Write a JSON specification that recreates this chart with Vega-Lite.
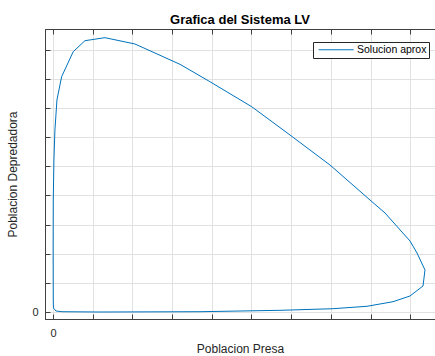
{
  "$schema": "https://vega.github.io/schema/vega-lite/v6.json",
  "width": 390,
  "height": 290,
  "autosize": {"type": "none"},
  "padding": {"left": 45, "top": 29, "right": 0, "bottom": 37},
  "background": "white",
  "title": {"text": "Grafica del Sistema LV", "font": "Liberation Sans", "fontSize": 13, "fontWeight": "bold", "color": "#000000", "anchor": "middle", "offset": 2},
  "config": {
    "view": {"stroke": "#404040", "strokeWidth": 1},
    "font": "Liberation Sans"
  },
  "data": {
    "values": [
      {"i": 1, "x": 0.013, "y": 0.137, "s": "Solucion aprox"},
      {"i": 2, "x": 0.076, "y": 0.034, "s": "Solucion aprox"},
      {"i": 3, "x": 0.227, "y": 0.010, "s": "Solucion aprox"},
      {"i": 4, "x": 1.184, "y": 0.0, "s": "Solucion aprox"},
      {"i": 5, "x": 3.703, "y": 0.010, "s": "Solucion aprox"},
      {"i": 6, "x": 5.718, "y": 0.058, "s": "Solucion aprox"},
      {"i": 7, "x": 7.053, "y": 0.113, "s": "Solucion aprox"},
      {"i": 8, "x": 7.909, "y": 0.196, "s": "Solucion aprox"},
      {"i": 9, "x": 8.564, "y": 0.353, "s": "Solucion aprox"},
      {"i": 10, "x": 8.992, "y": 0.549, "s": "Solucion aprox"},
      {"i": 11, "x": 9.320, "y": 0.892, "s": "Solucion aprox"},
      {"i": 12, "x": 9.370, "y": 1.441, "s": "Solucion aprox"},
      {"i": 13, "x": 9.169, "y": 2.024, "s": "Solucion aprox"},
      {"i": 14, "x": 8.992, "y": 2.436, "s": "Solucion aprox"},
      {"i": 15, "x": 8.363, "y": 3.396, "s": "Solucion aprox"},
      {"i": 16, "x": 7.985, "y": 3.842, "s": "Solucion aprox"},
      {"i": 17, "x": 6.977, "y": 5.043, "s": "Solucion aprox"},
      {"i": 18, "x": 6.222, "y": 5.815, "s": "Solucion aprox"},
      {"i": 19, "x": 5.970, "y": 6.072, "s": "Solucion aprox"},
      {"i": 20, "x": 5.005, "y": 7.043, "s": "Solucion aprox"},
      {"i": 21, "x": 3.955, "y": 7.900, "s": "Solucion aprox"},
      {"i": 22, "x": 3.199, "y": 8.497, "s": "Solucion aprox"},
      {"i": 23, "x": 2.065, "y": 9.194, "s": "Solucion aprox"},
      {"i": 24, "x": 1.310, "y": 9.410, "s": "Solucion aprox"},
      {"i": 25, "x": 0.806, "y": 9.307, "s": "Solucion aprox"},
      {"i": 26, "x": 0.511, "y": 8.930, "s": "Solucion aprox"},
      {"i": 27, "x": 0.219, "y": 8.072, "s": "Solucion aprox"},
      {"i": 28, "x": 0.101, "y": 7.273, "s": "Solucion aprox"},
      {"i": 29, "x": 0.050, "y": 6.244, "s": "Solucion aprox"},
      {"i": 30, "x": 0.025, "y": 5.214, "s": "Solucion aprox"},
      {"i": 31, "x": 0.008, "y": 3.842, "s": "Solucion aprox"},
      {"i": 32, "x": 0.005, "y": 2.127, "s": "Solucion aprox"},
      {"i": 33, "x": 0.008, "y": 0.412, "s": "Solucion aprox"},
      {"i": 34, "x": 0.013, "y": 0.137, "s": "Solucion aprox"}
    ]
  },
  "encoding": {
    "y": {
      "field": "y", "type": "quantitative",
      "scale": {"domain": [-0.24, 9.708], "nice": false, "zero": false},
      "axis": {
        "orient": "left", "values": [0, 1, 2, 3, 4, 5, 6, 7, 8, 9],
        "grid": true, "gridColor": "#e1e1e1", "gridWidth": 1,
        "domainColor": "#404040", "tickColor": "#404040", "tickSize": -5,
        "labelExpr": "datum.value == 0 ? '0' : ''", "labelOverlap": false,
        "labelFontSize": 11, "labelColor": "#262626", "labelPadding": 12, "labelFont": "Liberation Sans",
        "title": "Poblacion Depredadora", "titleFontSize": 12, "titleFontWeight": "normal", "titleColor": "#262626", "titlePadding": 12, "titleFont": "Liberation Sans"
      }
    },
    "order": {"field": "i", "type": "quantitative"}
  },
  "layer": [
    {
      "mark": {"type": "line", "strokeWidth": 1, "clip": true},
      "encoding": {
        "x": {
          "field": "x", "type": "quantitative",
          "scale": {"domain": [-0.2, 9.622], "nice": false, "zero": false},
          "axis": {
            "orient": "bottom", "values": [0, 1, 2, 3, 4, 5, 6, 7, 8, 9],
            "grid": true, "gridColor": "#e1e1e1", "gridWidth": 1,
            "domainColor": "#404040", "tickColor": "#404040", "tickSize": -5,
            "labelExpr": "datum.value == 0 ? '0' : ''", "labelOverlap": false,
            "labelFontSize": 11, "labelColor": "#262626", "labelPadding": 13, "labelFont": "Liberation Sans",
            "title": "Poblacion Presa", "titleFontSize": 12, "titleFontWeight": "normal", "titleColor": "#262626", "titlePadding": 5, "titleFont": "Liberation Sans"
          }
        },
        "color": {
          "field": "s", "type": "nominal",
          "scale": {"range": ["#0072BD"]},
          "legend": {
            "title": null, "orient": "none", "legendX": 268, "legendY": 13,
            "strokeColor": "#262626", "fillColor": "white", "padding": 2.5,
            "symbolType": "M-0.6,0H9.4", "symbolSize": 49, "symbolStrokeWidth": 1,
            "labelFontSize": 10.5, "labelColor": "#000000", "labelFont": "Liberation Sans", "labelOffset": 31
          }
        }
      }
    },
    {
      "mark": {"type": "line", "opacity": 0},
      "encoding": {
        "x": {
          "field": "x", "type": "quantitative",
          "axis": {
            "orient": "top", "values": [0, 1, 2, 3, 4, 5, 6, 7, 8, 9],
            "grid": false, "labels": false, "title": null,
            "domainColor": "#404040", "tickColor": "#404040", "tickSize": -5
          }
        }
      }
    }
  ],
  "resolve": {"axis": {"x": "independent"}}
}
